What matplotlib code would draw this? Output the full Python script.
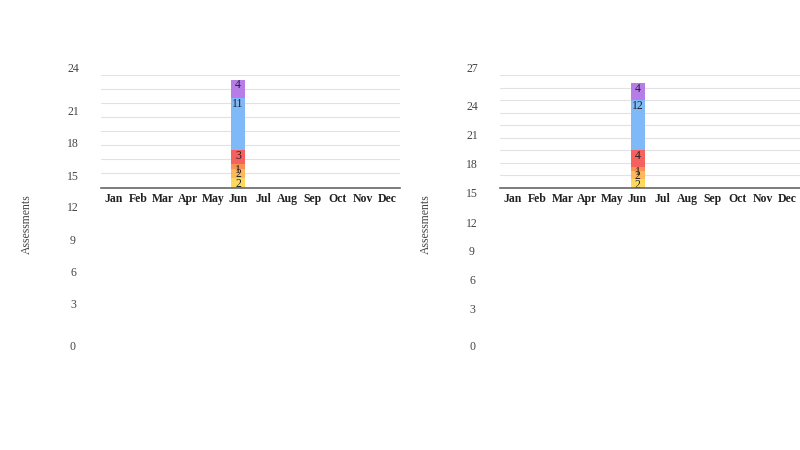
import numpy as np
import matplotlib.pyplot as plt

plt.rcParams['font.family'] = ['Liberation Serif', 'DejaVu Serif']

months = ["Jan", "Feb", "Mar", "Apr", "May", "Jun", "Jul", "Aug", "Sep", "Oct", "Nov", "Dec"]
seg_colors = ["#fcd95e", "#fcb85a", "#f99152", "#f5615e", "#80b9f8", "#b67de9"]

# stacked segments, only June has data (bottom -> top)
left_june = [2, 2, 1, 3, 11, 4]
right_june = [2, 2, 1, 4, 12, 4]

left_ticks = [24, 21, 18, 15, 12, 9, 6, 3, 0]
right_ticks = [27, 24, 21, 18, 15, 12, 9, 6, 3, 0]

# where the (misplaced) tick labels sit, in pixels from top
left_tick_y = [69, 112, 144, 177, 208, 241, 273, 305, 347]
right_tick_y = [69, 107, 136, 165, 194, 224, 252, 281, 310, 347]

W, H = 800, 450
fig = plt.figure(figsize=(8, 4.5), dpi=100)


def panel(x0, width, ymax, june, ticks, tick_y, tick_x, lab_x):
    ax = fig.add_axes([x0 / W, (H - 187.5) / H, width / W, 112.5 / H])
    x = np.arange(len(months))
    bottom = 0
    for val, col in zip(june, seg_colors):
        vals = np.zeros(len(months))
        vals[5] = val
        ax.bar(x, vals, bottom=bottom, width=0.56, color=col, zorder=3)
        top = bottom + val
        ax.annotate(str(val), (5, top), xytext=(0, -4), textcoords='offset points',
                    ha='center', va='center', fontsize=8.5, color='#222222', zorder=4)
        bottom = top
    ax.set_xlim(-0.5, 11.5)
    ax.set_ylim(0, ymax)
    ax.set_yticks(np.arange(0, ymax + 1, 3))
    ax.yaxis.grid(True, color='#e2e2e2', linewidth=0.8, zorder=0)
    ax.set_yticklabels([])
    ax.tick_params(axis='y', length=0)
    ax.tick_params(axis='x', length=0, pad=4)
    ax.set_xticks(x)
    ax.set_xticklabels(months, fontsize=8.5, fontweight='bold', color='#222222')
    for s in ['top', 'right', 'left']:
        ax.spines[s].set_visible(False)
    ax.spines['bottom'].set_color('#666666')
    ax.spines['bottom'].set_linewidth(1.2)
    ax.spines['bottom'].set_zorder(5)
    for t, ty in zip(ticks, tick_y):
        fig.text(tick_x / W, 1 - ty / H, str(t), ha='center', va='center',
                 fontsize=8.5, color='#444444')
    fig.text(lab_x / W, 1 - 224 / H, "Assessments", rotation=90, ha='center',
             va='center', fontsize=8.5, color='#444444')


panel(101, 299, 24, left_june, left_ticks, left_tick_y, 73, 27)
panel(500, 300, 27, right_june, right_ticks, right_tick_y, 472, 426)

fig.savefig("out.png", dpi=100)
